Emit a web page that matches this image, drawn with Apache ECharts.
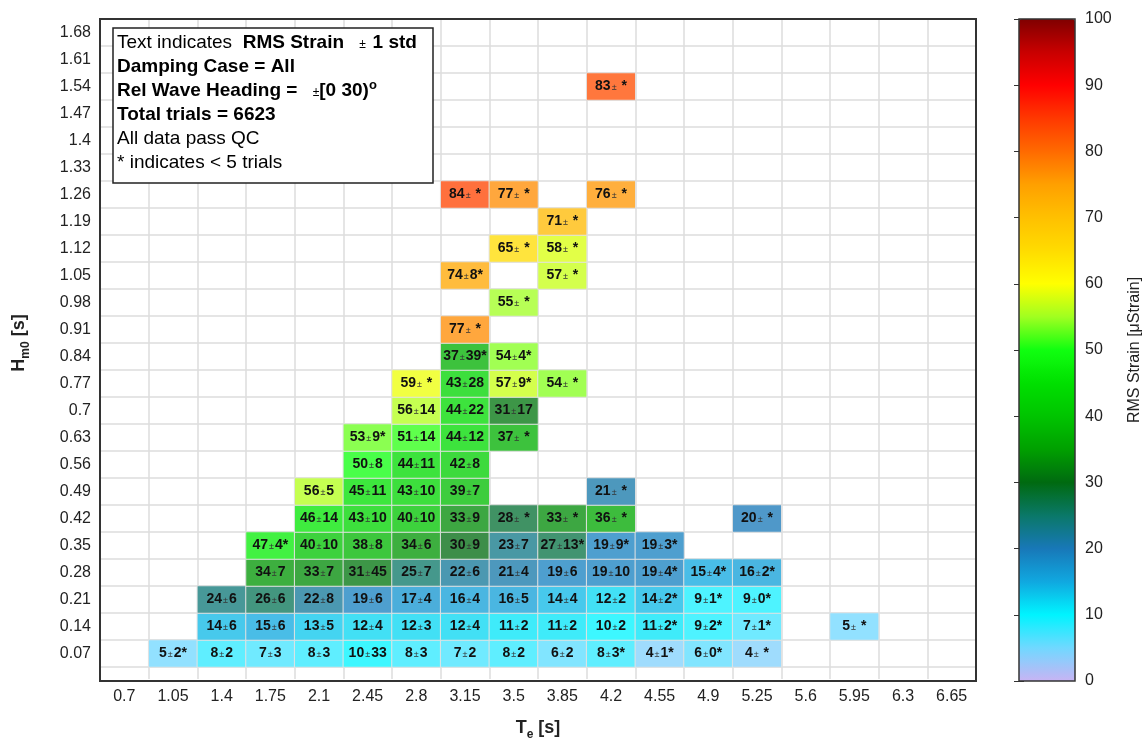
<!DOCTYPE html>
<html>
<head>
<meta charset="utf-8">
<script src="https://cdn.jsdelivr.net/npm/echarts@6/dist/echarts.min.js"></script>
<style>html,body{margin:0;padding:0;background:#fff}#c{width:1148px;height:742px}</style>
</head>
<body>
<div id="c"></div>
<script>
// x categories: Te [s]
const teCats = ['0.7','1.05','1.4','1.75','2.1','2.45','2.8','3.15','3.5','3.85','4.2','4.55','4.9','5.25','5.6','5.95','6.3','6.65'];
// y categories: Hm0 [s]
const hmCats = ['0.07','0.14','0.21','0.28','0.35','0.42','0.49','0.56','0.63','0.7','0.77','0.84','0.91','0.98','1.05','1.12','1.19','1.26','1.33','1.4','1.47','1.54','1.61','1.68'];
const cbTicks = [0,10,20,30,40,50,60,70,80,90,100];

// [Te, Hm0, RMS strain mean, std (null if none), fewer than 5 trials]
const row007 = [['1.05','0.07',5,2,1],['1.4','0.07',8,2,0],['1.75','0.07',7,3,0],['2.1','0.07',8,3,0],['2.45','0.07',10,33,0],['2.8','0.07',8,3,0],['3.15','0.07',7,2,0],['3.5','0.07',8,2,0],['3.85','0.07',6,2,0],['4.2','0.07',8,3,1],['4.55','0.07',4,1,1],['4.9','0.07',6,0,1],['5.25','0.07',4,null,1]];
const row014 = [['1.4','0.14',14,6,0],['1.75','0.14',15,6,0],['2.1','0.14',13,5,0],['2.45','0.14',12,4,0],['2.8','0.14',12,3,0],['3.15','0.14',12,4,0],['3.5','0.14',11,2,0],['3.85','0.14',11,2,0],['4.2','0.14',10,2,0],['4.55','0.14',11,2,1],['4.9','0.14',9,2,1],['5.25','0.14',7,1,1],['5.95','0.14',5,null,1]];
const row021 = [['1.4','0.21',24,6,0],['1.75','0.21',26,6,0],['2.1','0.21',22,8,0],['2.45','0.21',19,6,0],['2.8','0.21',17,4,0],['3.15','0.21',16,4,0],['3.5','0.21',16,5,0],['3.85','0.21',14,4,0],['4.2','0.21',12,2,0],['4.55','0.21',14,2,1],['4.9','0.21',9,1,1],['5.25','0.21',9,0,1]];
const row028 = [['1.75','0.28',34,7,0],['2.1','0.28',33,7,0],['2.45','0.28',31,45,0],['2.8','0.28',25,7,0],['3.15','0.28',22,6,0],['3.5','0.28',21,4,0],['3.85','0.28',19,6,0],['4.2','0.28',19,10,0],['4.55','0.28',19,4,1],['4.9','0.28',15,4,1],['5.25','0.28',16,2,1]];
const row035 = [['1.75','0.35',47,4,1],['2.1','0.35',40,10,0],['2.45','0.35',38,8,0],['2.8','0.35',34,6,0],['3.15','0.35',30,9,0],['3.5','0.35',23,7,0],['3.85','0.35',27,13,1],['4.2','0.35',19,9,1],['4.55','0.35',19,3,1]];
const row042 = [['2.1','0.42',46,14,0],['2.45','0.42',43,10,0],['2.8','0.42',40,10,0],['3.15','0.42',33,9,0],['3.5','0.42',28,null,1],['3.85','0.42',33,null,1],['4.2','0.42',36,null,1],['5.25','0.42',20,null,1]];
const row049 = [['2.1','0.49',56,5,0],['2.45','0.49',45,11,0],['2.8','0.49',43,10,0],['3.15','0.49',39,7,0],['4.2','0.49',21,null,1]];
const row056 = [['2.45','0.56',50,8,0],['2.8','0.56',44,11,0],['3.15','0.56',42,8,0]];
const row063 = [['2.45','0.63',53,9,1],['2.8','0.63',51,14,0],['3.15','0.63',44,12,0],['3.5','0.63',37,null,1]];
const row070 = [['2.8','0.7',56,14,0],['3.15','0.7',44,22,0],['3.5','0.7',31,17,0]];
const row077 = [['2.8','0.77',59,null,1],['3.15','0.77',43,28,0],['3.5','0.77',57,9,1],['3.85','0.77',54,null,1]];
const row084 = [['3.15','0.84',37,39,1],['3.5','0.84',54,4,1]];
const row091 = [['3.15','0.91',77,null,1]];
const row098 = [['3.5','0.98',55,null,1]];
const row105 = [['3.15','1.05',74,8,1],['3.85','1.05',57,null,1]];
const row112 = [['3.5','1.12',65,null,1],['3.85','1.12',58,null,1]];
const row119 = [['3.85','1.19',71,null,1]];
const row126 = [['3.15','1.26',84,null,1],['3.5','1.26',77,null,1],['4.2','1.26',76,null,1]];
const row154 = [['4.2','1.54',83,null,1]];

const allRows = [row007,row014,row021,row028,row035,row042,row049,row056,row063,row070,row077,row084,row091,row098,row105,row112,row119,row126,row154];
const heatData = [];
allRows.forEach(r => r.forEach(c => {
  heatData.push({ value: [teCats.indexOf(c[0]), hmCats.indexOf(c[1]), c[2]], std: c[3], few: c[4] });
}));

const FONT = '"Liberation Sans", Arial, Helvetica, sans-serif';
const gridColor = '#dcdcdc';
const cmap = ['#c8b4f4','#70d8ff','#00f4ff','#10a8e0','#1878b8','#0a7868','#006a10','#00a000','#00c400','#00e000','#10ff10','#a0ff20','#ffff00','#ffdc00','#ffc000','#ffa000','#ff6a00','#ff3800','#ff0000','#c80000','#800000'];
// cells are drawn slightly washed out (blended with white)
function wash(hex, a) {
  const n = parseInt(hex.slice(1), 16);
  const ch = [(n >> 16) & 255, (n >> 8) & 255, n & 255].map(v => Math.round(v * a + 255 * (1 - a)));
  return 'rgb(' + ch.join(',') + ')';
}
const cmapCells = cmap.map(c => wash(c, 0.76));

const chart = echarts.init(document.getElementById('c'), null, { renderer: 'canvas' });
chart.setOption({
  animation: false,
  backgroundColor: '#ffffff',
  textStyle: { fontFamily: FONT },
  grid: [
    { left: 100, top: 19, width: 876, height: 648, containLabel: false },
    { left: 100, top: 667, width: 876, height: 14, containLabel: false },
    { left: 1019, top: 19, width: 56, height: 662, containLabel: false }
  ],
  xAxis: [
    { type: 'category', gridIndex: 0, data: teCats, axisLabel: { show: false }, axisTick: { show: false }, axisLine: { show: false },
      splitLine: { show: true, interval: 0, lineStyle: { color: gridColor, width: 1.5 } } },
    { type: 'category', gridIndex: 1, data: teCats, axisTick: { show: false }, axisLine: { show: false },
      axisLabel: { interval: 0, fontSize: 16, color: '#222', margin: 10, fontFamily: FONT },
      splitLine: { show: true, interval: 0, lineStyle: { color: gridColor, width: 1.5 } },
      name: '{b|T}{sub|e}{b| [s]}', nameLocation: 'middle', nameGap: 36,
      nameTextStyle: { rich: {
        b: { fontSize: 18, fontWeight: 'bold', color: '#222', fontFamily: FONT, lineHeight: 26 },
        sub: { fontSize: 12, fontWeight: 'bold', color: '#222', fontFamily: FONT, lineHeight: 26, verticalAlign: 'bottom' } } } },
    { type: 'value', gridIndex: 2, show: false, min: 0, max: 1 }
  ],
  yAxis: [
    { type: 'category', gridIndex: 0, data: hmCats, axisTick: { show: false }, axisLine: { show: false },
      axisLabel: { interval: 0, fontSize: 16, color: '#222', margin: 9, fontFamily: FONT },
      splitLine: { show: true, interval: 0, lineStyle: { color: gridColor, width: 1.5 } },
      name: '{b|H}{sub|m0}{b| [s]}', nameLocation: 'middle', nameGap: 68, nameRotate: 90,
      nameTextStyle: { rich: {
        b: { fontSize: 18, fontWeight: 'bold', color: '#222', fontFamily: FONT, lineHeight: 26 },
        sub: { fontSize: 12, fontWeight: 'bold', color: '#222', fontFamily: FONT, lineHeight: 26, verticalAlign: 'bottom' } } } },
    { type: 'value', gridIndex: 1, show: false, min: 0, max: 1 },
    { type: 'value', gridIndex: 2, position: 'right', min: 0, max: 100, interval: 10,
      axisLine: { show: false }, splitLine: { show: false },
      axisTick: { show: true, inside: true, length: 5, lineStyle: { color: '#333', width: 1 } },
      axisLabel: { fontSize: 16, color: '#222', margin: 10, fontFamily: FONT, formatter: v => cbTicks.indexOf(v) >= 0 ? String(v) : '' },
      name: 'RMS Strain [\u03bcStrain]', nameLocation: 'middle', nameGap: 52, nameRotate: 90,
      nameTextStyle: { fontSize: 16, color: '#222', fontFamily: FONT } },
    { type: 'value', gridIndex: 2, position: 'left', min: 0, max: 100, interval: 10,
      axisLine: { show: false }, splitLine: { show: false }, axisLabel: { show: false },
      axisTick: { show: true, inside: true, length: 5, lineStyle: { color: '#333', width: 1 } } }
  ],
  visualMap: [
    { type: 'continuous', seriesIndex: 1, min: 0, max: 100, calculable: false, orient: 'vertical',
      left: 1019, top: 19, itemWidth: 56, itemHeight: 662, padding: 0, text: null, showLabel: false,
      hoverLink: false, inRange: { color: cmap } },
    { type: 'continuous', seriesIndex: 0, min: 0, max: 100, show: false, inRange: { color: cmapCells } }
  ],
  series: [{
    type: 'heatmap', xAxisIndex: 0, yAxisIndex: 0, data: heatData,
    itemStyle: { borderColor: '#e2e2e2', borderWidth: 1 },
    label: {
      show: true,
      formatter: p => {
        const d = p.data;
        const m = d.value[2];
        const s = (d.std === null ? ' ' : String(d.std)) + (d.few ? '*' : '');
        return '{n|' + m + '}{pm|\u00b1}{n|' + s + '}';
      },
      rich: {
        n: { fontSize: 14, fontWeight: 'bold', color: '#111', fontFamily: FONT },
        pm: { fontSize: 9, color: '#333', fontFamily: FONT, padding: [2, 1, 0, 1] }
      }
    },
    emphasis: { disabled: true }
  }, {
    type: 'scatter', xAxisIndex: 2, yAxisIndex: 2, data: [], silent: true
  }],
  graphic: [
    { type: 'rect', z: 100, shape: { x: 100, y: 19, width: 876, height: 662 }, style: { fill: 'rgba(0,0,0,0)', stroke: '#333', lineWidth: 2 } },
    { type: 'rect', z: 100, shape: { x: 1019, y: 19, width: 56, height: 662 }, style: { fill: 'rgba(0,0,0,0)', stroke: '#333', lineWidth: 1.5 } },
    { type: 'rect', z: 100, shape: { x: 113, y: 28, width: 320, height: 155 }, style: { fill: '#fff', stroke: '#222', lineWidth: 1.5 } },
    { type: 'text', z: 101, left: 117, top: 33, style: {
      text: '{r|Text indicates }{b| RMS Strain }{s|   \u00b1  }{b|1 std}\n{b|Damping Case = All}\n{b|Rel Wave Heading = }{s|   \u00b1}{b|[0 30)}{sup|o}\n{b|Total trials = 6623}\n{r|All data pass QC}\n{r|* indicates < 5 trials}',
      rich: {
        r: { fontSize: 19, color: '#111', fontFamily: FONT, lineHeight: 24 },
        b: { fontSize: 19, fontWeight: 'bold', color: '#111', fontFamily: FONT, lineHeight: 24 },
        s: { fontSize: 12, color: '#333', fontFamily: FONT, lineHeight: 24, padding: [4, 0, 0, 0] },
        sup: { fontSize: 13, fontWeight: 'bold', color: '#111', fontFamily: FONT, lineHeight: 24, verticalAlign: 'top' }
      }
    } }
  ]
});
</script>
</body>
</html>
